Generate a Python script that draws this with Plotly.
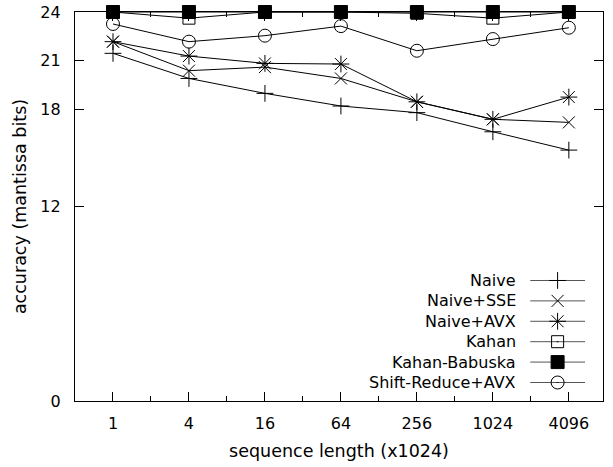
import plotly.graph_objects as go

# ---- data ----
seq_len = [1, 4, 16, 64, 256, 1024, 4096]
tick_labels = ["1", "4", "16", "64", "256", "1024", "4096"]
minor_ticks = [2, 8, 32, 128, 512, 2048]
y_ticks = [0, 12, 18, 21, 24]

naive = [21.45, 19.9, 18.98, 18.2, 17.79, 16.61, 15.48]
naive_sse = [22.17, 20.38, 20.6, 19.9, 18.46, 17.38, 17.19]
naive_avx = [22.17, 21.28, 20.83, 20.79, 18.46, 17.38, 18.75]
kahan = [24.0, 23.62, 24.0, 24.0, 23.92, 23.62, 24.0]
kahan_babuska = [24.0, 24.0, 24.0, 24.0, 24.0, 24.0, 24.0]
shift_reduce = [23.26, 22.17, 22.54, 23.13, 21.61, 22.33, 23.03]

series = [
    ("Naive", naive, "cross-thin-open", 12),
    ("Naive+SSE", naive_sse, "x-thin-open", 12),
    ("Naive+AVX", naive_avx, "asterisk-open", 14),
    ("Kahan", kahan, "square-open", 12),
    ("Kahan-Babuska", kahan_babuska, "square", 13),
    ("Shift-Reduce+AVX", shift_reduce, "circle-open", 13),
]
legend_symbols = ["cross-thin-open", "x-thin-open", "asterisk-open",
                  "square-open-dot", "square", "circle-open-dot"]

FONT = "DejaVu Sans"
FS = 16
TFS = 17.5
fig = go.Figure()

for name, vals, sym, size in series:
    fig.add_trace(go.Scatter(
        x=seq_len, y=vals, mode="lines+markers", name=name,
        line=dict(color="black", width=1),
        marker=dict(symbol=sym, size=size, color="black",
                    line=dict(color="black", width=1)),
        showlegend=False, cliponaxis=False,
    ))

# ---- gnuplot-style key (text right-aligned, sample on the right) ----
n = len(series)
for i, (name, vals, sym, size) in enumerate(series):
    row = n - 1 - i
    fig.add_trace(go.Scatter(
        x=[0, 0.5, 1], y=[row, row, row], mode="lines",
        line=dict(color="#555", width=1), showlegend=False,
        xaxis="x2", yaxis="y2", hoverinfo="skip",
    ))
    fig.add_trace(go.Scatter(
        x=[0.5], y=[row], mode="markers",
        marker=dict(symbol=legend_symbols[i], size=size, color="black",
                    line=dict(color="black", width=1)),
        showlegend=False, xaxis="x2", yaxis="y2", hoverinfo="skip",
    ))
    fig.add_annotation(
        x=0.839, xref="paper", y=row, yref="y2", text=name,
        showarrow=False, xanchor="right", yanchor="middle",
        font=dict(family=FONT, size=FS, color="black"),
    )

fig.update_layout(
    width=613, height=467,
    margin=dict(l=75, r=10, t=12, b=66, autoexpand=False),
    plot_bgcolor="rgba(0,0,0,0)", paper_bgcolor="white",
    font=dict(family=FONT, size=FS, color="black"),
    xaxis=dict(
        type="log", automargin=False,
        range=[-0.30103, 3.883],
        tickvals=seq_len, ticktext=tick_labels,
        ticks="inside", ticklen=9, tickwidth=1, tickcolor="black",
        minor=dict(tickvals=minor_ticks, ticks="inside", ticklen=5,
                   tickwidth=1, tickcolor="black", showgrid=False),
        showline=True, linecolor="black", linewidth=1.3, mirror="allticks",
        showgrid=False, zeroline=False,
        ticklabelstandoff=8, ticklabeloverflow="allow",
        title=dict(text="sequence length (x1024)", standoff=12,
                   font=dict(family=FONT, size=TFS)),
    ),
    yaxis=dict(
        range=[0, 24], automargin=False,
        tickvals=y_ticks,
        ticks="inside", ticklen=9, tickwidth=1, tickcolor="black",
        showline=True, linecolor="black", linewidth=1.3, mirror="allticks",
        showgrid=False, zeroline=False,
        ticklabelstandoff=10, ticklabeloverflow="allow",
        title=dict(text="accuracy (mantissa bits)", standoff=9,
                   font=dict(family=FONT, size=TFS)),
    ),
    xaxis2=dict(domain=[0.862, 0.966], range=[0, 1], visible=False,
                anchor="y2", fixedrange=True, automargin=False),
    yaxis2=dict(domain=[0, 1], range=[-0.907, 18.16], visible=False,
                anchor="x2", fixedrange=True, automargin=False),
)

# remove the browser's default 8px body margin so the figure sits at (0,0)
fig.write_html("out.html",
               config={"displayModeBar": False},
               post_script="document.body.style.margin='0';")
